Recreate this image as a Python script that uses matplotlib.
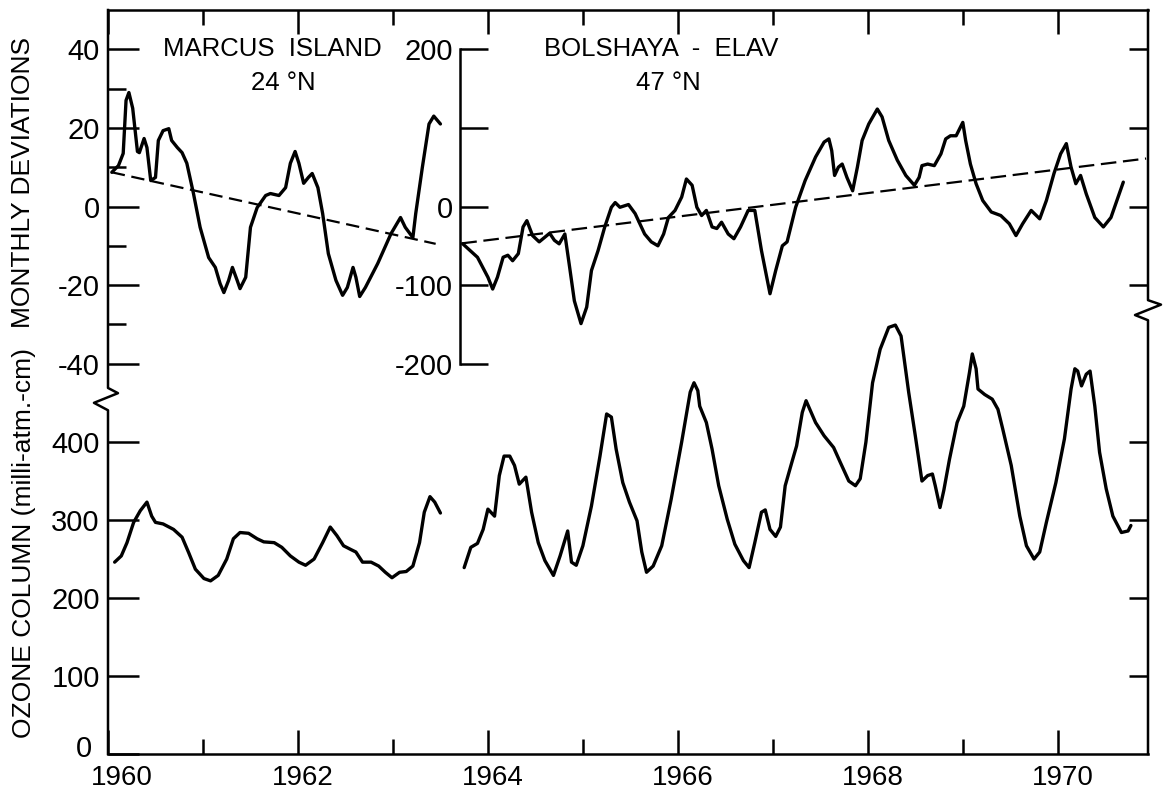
import matplotlib.pyplot as plt
from matplotlib.transforms import ScaledTranslation

plt.rcParams['font.family'] = ['Liberation Sans', 'DejaVu Sans']
plt.rcParams['axes.unicode_minus'] = False

# Marcus Island (24 N) monthly deviations
marcus_dev_yr = [1960.04, 1960.11, 1960.16, 1960.19, 1960.22, 1960.26, 1960.31, 1960.33, 1960.38,
                 1960.41, 1960.45, 1960.50, 1960.53, 1960.58, 1960.64, 1960.67, 1960.73, 1960.78,
                 1960.83, 1960.90, 1960.97, 1961.06, 1961.13, 1961.18, 1961.22, 1961.27, 1961.31,
                 1961.36, 1961.39, 1961.45, 1961.50, 1961.57, 1961.66, 1961.71, 1961.80, 1961.87,
                 1961.92, 1961.97, 1962.01, 1962.06, 1962.11, 1962.15, 1962.21, 1962.26, 1962.32,
                 1962.40, 1962.47, 1962.52, 1962.58, 1962.61, 1962.65, 1962.71, 1962.84, 1962.98,
                 1963.08, 1963.13, 1963.21, 1963.24, 1963.31, 1963.38, 1963.43, 1963.50]
marcus_dev = [8.7, 10.4, 13.5, 27, 29, 25, 14, 13.7, 17.3,
              15, 6.6, 7.4, 16.8, 19.3, 19.8, 16.8, 15, 13.7,
              11, 3.3, -5.3, -13, -15.5, -19.6, -21.9, -18.8, -15.5,
              -18.8, -20.9, -18, -5.3, -0.3, 2.8, 3.3, 2.8, 4.8,
              11, 14, 11, 5.9, 7.4, 8.4, 4.8, -1.8, -12,
              -18.8, -22.6, -20.6, -15.5, -18, -22.9, -20.6, -14.5, -6.9,
              -2.8, -5.3, -7.9, -1.8, 10, 21, 23, 21]
marcus_trend_yr = [1960.04, 1963.45]
marcus_trend = [8.7, -9.5]

# Bolshaya-Elav (47 N) monthly deviations
bolsh_dev_yr = [1963.735, 1963.89, 1964.00, 1964.05, 1964.10, 1964.16, 1964.21, 1964.26, 1964.32,
                1964.37, 1964.41, 1964.47, 1964.54, 1964.60, 1964.65, 1964.70, 1964.75, 1964.81,
                1964.86, 1964.91, 1964.98, 1965.04, 1965.09, 1965.16, 1965.23, 1965.30, 1965.34,
                1965.39, 1965.48, 1965.55, 1965.65, 1965.72, 1965.79, 1965.85, 1965.90, 1965.97,
                1966.04, 1966.09, 1966.15, 1966.20, 1966.25, 1966.30, 1966.36, 1966.41, 1966.46,
                1966.53, 1966.59, 1966.66, 1966.74, 1966.81, 1966.88, 1966.97, 1967.03, 1967.10,
                1967.15, 1967.24, 1967.34, 1967.45, 1967.54, 1967.59, 1967.62, 1967.65, 1967.69,
                1967.73, 1967.78, 1967.84, 1967.89, 1967.94, 1968.01, 1968.10, 1968.15, 1968.22,
                1968.31, 1968.40, 1968.49, 1968.54, 1968.57, 1968.63, 1968.70, 1968.77, 1968.82,
                1968.87, 1968.93, 1969.00, 1969.03, 1969.08, 1969.14, 1969.21, 1969.30, 1969.40,
                1969.49, 1969.56, 1969.63, 1969.72, 1969.81, 1969.88, 1969.96, 1970.03, 1970.09,
                1970.14, 1970.19, 1970.24, 1970.30, 1970.39, 1970.48, 1970.56, 1970.69]
bolsh_dev = [-47.5, -64.6, -90, -105, -90, -64.6, -62, -69, -60,
             -26, -18, -37, -45, -39, -34, -43, -47.5, -35,
             -77, -120, -149, -128, -81.5, -56, -26, -1, 5,
             -1, 2.5, -9, -35, -45, -50, -35, -14, -5,
             12, 35, 27, -1, -11.5, -5, -26, -28, -20,
             -35, -41, -26, -5, -5, -56, -111, -81.5, -50,
             -45, -1, 33, 63, 82, 86, 71, 39.5, 50,
             54, 37, 20, 50, 84, 105, 124, 114, 84,
             59, 39.5, 27, 37, 52, 54, 52, 67, 86,
             90, 90, 107, 84, 54, 29, 7.6, -7, -11.5,
             -22, -37, -22, -5, -15.7, 7.6, 42, 67, 80,
             50, 29, 39.5, 16, -14, -26, -14, 31]
bolsh_trend_yr = [1963.72, 1970.93]
bolsh_trend = [-47, 61]

# Ozone column (milli-atm-cm)
marcus_oz_yr = [1960.07, 1960.14, 1960.20, 1960.27, 1960.34, 1960.41, 1960.46, 1960.50, 1960.58,
                1960.69, 1960.78, 1960.85, 1960.92, 1961.01, 1961.08, 1961.16, 1961.25, 1961.32,
                1961.39, 1961.48, 1961.57, 1961.64, 1961.75, 1961.83, 1961.92, 1962.01, 1962.08,
                1962.17, 1962.26, 1962.34, 1962.41, 1962.48, 1962.56, 1962.61, 1962.68, 1962.77,
                1962.85, 1962.92, 1962.99, 1963.07, 1963.14, 1963.21, 1963.28, 1963.33, 1963.39,
                1963.44, 1963.50]
marcus_oz = [246, 254, 271, 297, 312, 323, 305, 297, 295,
             288, 278, 258, 237, 225, 222, 229, 250, 276,
             284, 283, 276, 272, 271, 265, 254, 246, 242,
             250, 271, 291, 280, 267, 262, 259, 246, 246,
             241, 233, 226, 233, 234, 241, 271, 310, 330,
             323, 309]

bolsh_oz_yr = [1963.75, 1963.82, 1963.89, 1963.95, 1964.00, 1964.07, 1964.12, 1964.17, 1964.23,
               1964.28, 1964.33, 1964.40, 1964.46, 1964.53, 1964.60, 1964.69, 1964.76, 1964.84,
               1964.88, 1964.93, 1965.00, 1965.09, 1965.18, 1965.25, 1965.30, 1965.35, 1965.42,
               1965.49, 1965.57, 1965.62, 1965.67, 1965.74, 1965.83, 1965.93, 1966.04, 1966.13,
               1966.17, 1966.21, 1966.23, 1966.30, 1966.36, 1966.43, 1966.52, 1966.60, 1966.69,
               1966.75, 1966.81, 1966.88, 1966.92, 1966.97, 1967.03, 1967.08, 1967.13, 1967.20,
               1967.25, 1967.31, 1967.35, 1967.45, 1967.54, 1967.64, 1967.71, 1967.80, 1967.87,
               1967.92, 1967.98, 1968.05, 1968.13, 1968.22, 1968.29, 1968.35, 1968.43, 1968.50,
               1968.57, 1968.63, 1968.68, 1968.71, 1968.76, 1968.80, 1968.86, 1968.94, 1969.01,
               1969.07, 1969.10, 1969.14, 1969.16, 1969.23, 1969.31, 1969.37, 1969.42, 1969.51,
               1969.60, 1969.67, 1969.75, 1969.81, 1969.88, 1969.98, 1970.07, 1970.14, 1970.18,
               1970.21, 1970.25, 1970.30, 1970.34, 1970.39, 1970.44, 1970.51, 1970.58, 1970.67,
               1970.74, 1970.77]
bolsh_oz = [239, 265, 270, 288, 314, 305, 357, 382, 382,
            370, 346, 355, 310, 271, 248, 229, 254, 286,
            246, 242, 267, 318, 382, 436, 432, 391, 348,
            323, 299, 259, 233, 241, 267, 327, 400, 464,
            476, 466, 446, 425, 391, 344, 301, 269, 248,
            239, 271, 310, 313, 288, 279, 291, 344, 374,
            395, 438, 453, 425, 408, 393, 374, 350, 344,
            353, 400, 476, 519, 547, 550, 536, 464, 408,
            350, 357, 359, 344, 316, 338, 378, 425, 446,
            489, 513, 494, 468, 461, 455, 442, 417, 370,
            305, 267, 250, 259, 297, 348, 404, 468, 494,
            491, 472, 487, 491, 446, 387, 340, 305, 284,
            286, 293]

year_ticks = [1960, 1962, 1964, 1966, 1968, 1970]
odd_years = [1961, 1963, 1965, 1967, 1969]
oz_ticks = [0, 100, 200, 300, 400]
dev_ticks = [-40, -20, 0, 20, 40]
dev_minor = [-30, -10, 10, 30]
bolsh_ticks = [-200, -100, 0, 100, 200]
bolsh_labels = ['-200', '-100', '0', '', '200']

W, H = 1164, 793
X0, X1 = 1960, 1970.95
LW = 1.8
CURVE = dict(color='k', lw=2.4, solid_joinstyle='round', solid_capstyle='round')


def box(left, top, right, bottom):
    return [left / W, 1 - bottom / H, (right - left) / W, (bottom - top) / H]


def nudge(label, dx, dy):
    # shift a tick label by dx, dy pixels
    label.set_transform(label.get_transform() + ScaledTranslation(dx / 100, dy / 100, fig.dpi_scale_trans))


fig = plt.figure(figsize=(W / 100, H / 100), dpi=100)

# main frame: ozone column
ax = fig.add_axes(box(108, 10, 1148, 754))
ax.set_xlim(X0, X1)
ax.set_ylim(0, 954)
ax.plot(marcus_oz_yr, marcus_oz, **CURVE)
ax.plot(bolsh_oz_yr, bolsh_oz, **CURVE)
ax.set_xticks(year_ticks)
ax.set_xticklabels([str(y) for y in year_ticks])
ax.set_xticks(odd_years, minor=True)
ax.tick_params(axis='x', which='major', direction='in', length=17, width=LW, top=True,
               labelsize=20, pad=8)
ax.tick_params(axis='x', which='minor', direction='in', length=11, width=LW, top=True)
xlabs = ax.get_xticklabels()
for lab in xlabs:
    nudge(lab, 5, 0)
nudge(xlabs[0], 9, 0)
ax.set_yticks(oz_ticks)
ax.set_yticklabels([str(v) for v in oz_ticks])
ax.tick_params(axis='y', direction='in', length=22, width=LW, labelsize=21, pad=6)
nudge(ax.get_yticklabels()[0], -8, 8)
for s in ['left', 'right']:
    ax.spines[s].set_visible(False)
for s in ['top', 'bottom']:
    ax.spines[s].set_linewidth(LW)

# broken side spines
ax.plot([0, 0, 0.0096, -0.0135, 0, 0], [1, 0.492, 0.485, 0.472, 0.462, 0],
        transform=ax.transAxes, clip_on=False, color='k', lw=LW)
ax.plot([1, 1, 1.0125, 0.9875, 1, 1], [1, 0.610, 0.604, 0.590, 0.583, 0],
        transform=ax.transAxes, clip_on=False, color='k', lw=LW)

ax_r = ax.twinx()
ax_r.set_ylim(0, 954)
ax_r.set_yticks(oz_ticks[1:])
ax_r.tick_params(axis='y', direction='in', length=14, width=LW, labelright=False)
for s in ax_r.spines.values():
    s.set_visible(False)

# upper panel: Marcus Island deviations
ax_m = fig.add_axes(box(108, 10, 1148, 403))
ax_m.patch.set_visible(False)
ax_m.set_xlim(X0, X1)
ax_m.set_ylim(-50, 50)
ax_m.plot(marcus_dev_yr, marcus_dev, **CURVE)
ax_m.plot(marcus_trend_yr, marcus_trend, color='k', lw=1.6, dashes=(6, 3))
ax_m.xaxis.set_visible(False)
ax_m.set_yticks(dev_ticks)
ax_m.set_yticklabels([str(v) for v in dev_ticks])
ax_m.set_yticks(dev_minor, minor=True)
ax_m.tick_params(axis='y', which='major', direction='in', length=22, width=LW, labelsize=21, pad=6)
ax_m.tick_params(axis='y', which='minor', direction='in', length=13, width=LW)
for s in ax_m.spines.values():
    s.set_visible(False)

ax_mr = ax_m.twinx()
ax_mr.set_ylim(-50, 50)
ax_mr.set_yticks([-20, 0, 20, 40])
ax_mr.tick_params(axis='y', direction='in', length=14, width=LW, labelright=False)
for s in ax_mr.spines.values():
    s.set_visible(False)

# upper panel: Bolshaya-Elav deviations, own inner axis
bx0 = 1963.706
ax_b = fig.add_axes(box(460, 10, 1148, 403))
ax_b.patch.set_visible(False)
ax_b.set_xlim(bx0, X1)
ax_b.set_ylim(-250, 250)
ax_b.plot(bolsh_dev_yr, bolsh_dev, **CURVE)
ax_b.plot(bolsh_trend_yr, bolsh_trend, color='k', lw=1.6, dashes=(7, 3))
ax_b.xaxis.set_visible(False)
ax_b.set_yticks(bolsh_ticks)
ax_b.set_yticklabels(bolsh_labels)
ax_b.tick_params(axis='y', direction='in', length=20, width=LW, labelsize=21, pad=5)
for s in ['top', 'right', 'bottom']:
    ax_b.spines[s].set_visible(False)
ax_b.spines['left'].set_bounds(-200, 200)
ax_b.spines['left'].set_linewidth(LW)

# station names
fig.text(272 / W, 1 - 49 / H, 'MARCUS  ISLAND', ha='center', va='center', fontsize=18.5)
fig.text(283 / W, 1 - 83 / H, '24 °N', ha='center', va='center', fontsize=18.5)
fig.text(661 / W, 1 - 49 / H, 'BOLSHAYA  -  ELAV', ha='center', va='center', fontsize=18.5)
fig.text(668 / W, 1 - 83 / H, '47 °N', ha='center', va='center', fontsize=18.5)

# axis titles
fig.text(23 / W, 1 - 183 / H, 'MONTHLY DEVIATIONS', rotation=90, ha='center', va='center', fontsize=19)
fig.text(24 / W, 1 - 543 / H, 'OZONE COLUMN (milli-atm.-cm)', rotation=90, ha='center', va='center',
         fontsize=19)

fig.savefig('out.png', dpi=100)
